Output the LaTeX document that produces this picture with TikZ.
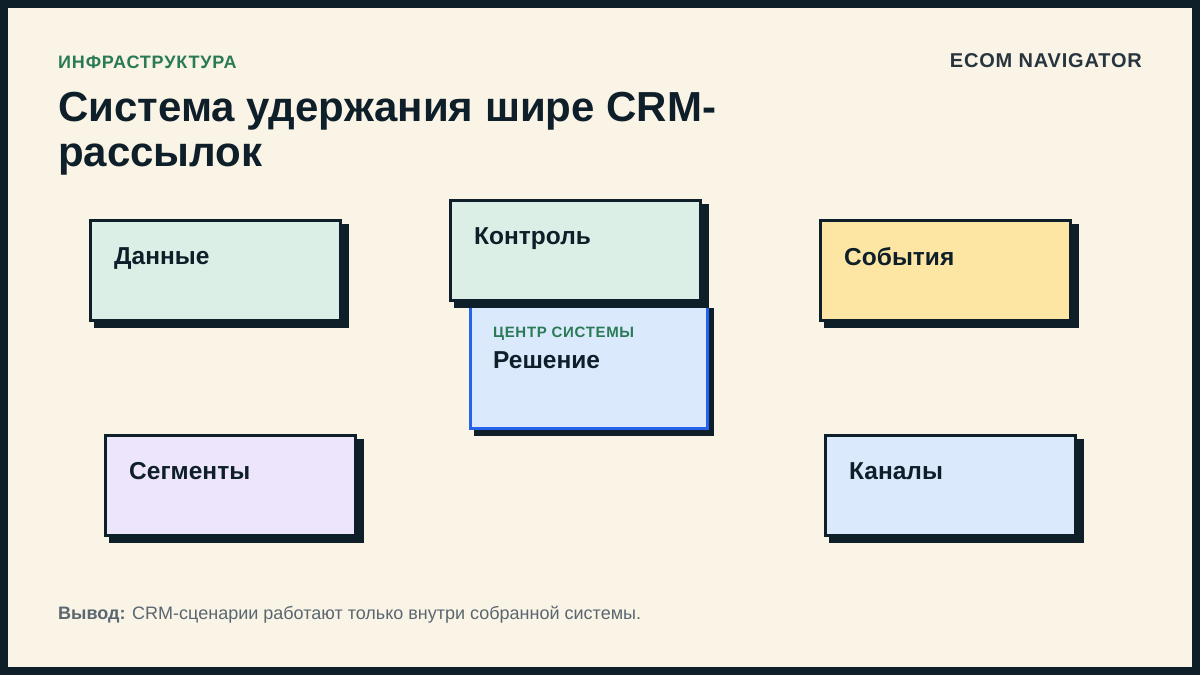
\documentclass[tikz,border=0pt]{standalone}
\usepackage{fontspec}
\setmainfont{Liberation Sans}
\newfontfamily\spaced[LetterSpace=4.5]{Liberation Sans}
\newfontfamily\spacedlite[LetterSpace=4]{Liberation Sans}
\usetikzlibrary{positioning}
\definecolor{ink}{HTML}{0F1F2A}
\definecolor{paper}{HTML}{FAF4E6}
\definecolor{mint}{HTML}{DCEFE6}
\definecolor{sand}{HTML}{FDE6A3}
\definecolor{sky}{HTML}{DBE9FD}
\definecolor{lilac}{HTML}{EDE5FC}
\definecolor{accent}{HTML}{2A7A55}
\definecolor{edgeblue}{HTML}{2563EB}
\definecolor{muted}{HTML}{5A6670}
\tikzset{
  card/.style={draw=ink,line width=3pt,anchor=north west,minimum width=250pt,minimum height=100pt,inner sep=0pt},
  shadow/.style={fill=ink,anchor=north west,minimum width=255pt,minimum height=104pt,inner sep=0pt},
  cardtitle/.style={anchor=north west,font=\bfseries\fontsize{24.5}{28}\selectfont,text=ink,inner sep=0pt}
}
\begin{document}
\begin{tikzpicture}[x=1pt,y=-1pt]
\fill[ink] (0,0) rectangle (1200,675);
\fill[paper] (8,8) rectangle (1192,667);
\useasboundingbox (0,0) rectangle (1200,675);

\node[anchor=west,font=\spaced\bfseries\fontsize{18}{20}\selectfont,text=accent,inner sep=0pt] (kicker) at (58,62) {ИНФРАСТРУКТУРА};
\node[anchor=east,font=\spacedlite\bfseries\fontsize{20}{22}\selectfont,text=ink!90,inner sep=0pt] (brand) at (1142,61) {ECOM NAVIGATOR};
\node[anchor=north west,align=left,font=\bfseries\fontsize{42}{45}\selectfont,text=ink,inner sep=0pt] (title) at (58,92) {Система удержания шире CRM-\\рассылок};

% centre card
\node[shadow,minimum width=240pt,minimum height=128pt] at (474,308) {};
\node[card,draw=edgeblue,fill=sky,minimum width=237pt,minimum height=126pt] (hub) at (468.5,300.5) {};
\node[anchor=north west,font=\spaced\bfseries\fontsize{15}{17}\selectfont,text=accent,inner sep=0pt] (hubtag) at (493,327) {ЦЕНТР СИСТЕМЫ};
\node[cardtitle,below=11pt of hubtag.south west,anchor=north west] (hubname) {Решение};

% outer cards
\foreach \name/\x/\y/\col/\txt in {data/90/220/mint/Данные, ctrl/450/200/mint/Контроль, events/820/220/sand/События, segs/105/435/lilac/Сегменты, chans/825/435/sky/Каналы}{
  \node[shadow] at (\x+4,\y+4) {};
  \node[card,fill=\col] (\name) at (\x-1.5,\y-1.5) {};
  \node[cardtitle] (\name-t) at (\x+24,\y+27) {\txt};
}

\node[anchor=west,font=\fontsize{18}{21}\selectfont,text=muted,inner sep=0pt] (note) at (58,615) {\textbf{Вывод:} CRM-сценарии работают только внутри собранной системы.};
\end{tikzpicture}
\end{document}
